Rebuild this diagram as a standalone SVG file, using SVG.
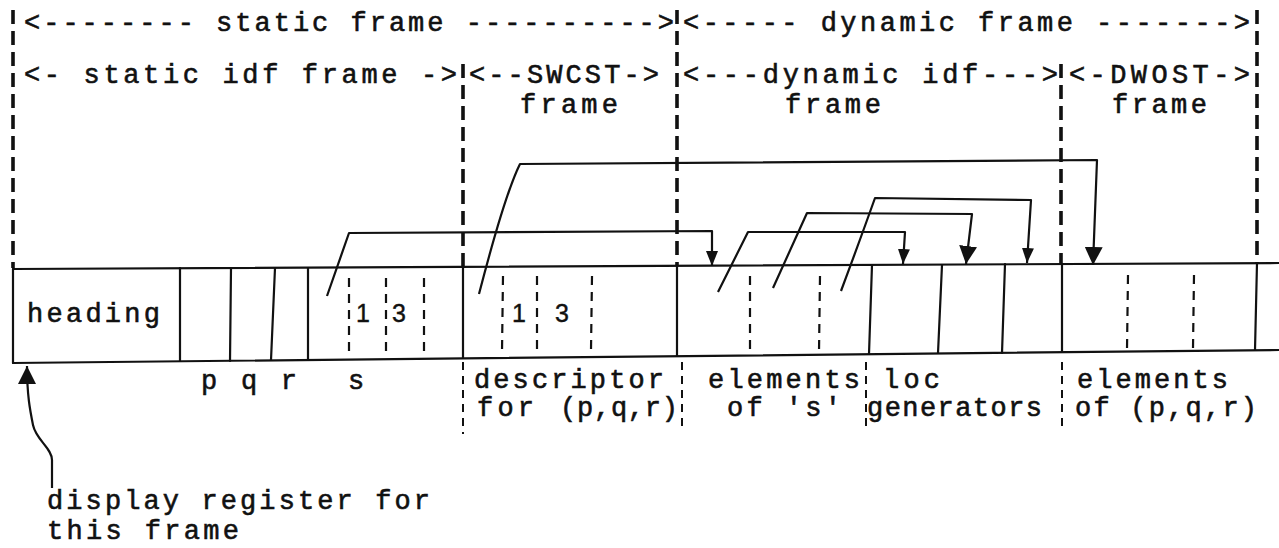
<svg xmlns="http://www.w3.org/2000/svg" width="1279" height="548" viewBox="0 0 1279 548">
  <style>
    .t { font-family: "Liberation Mono", "DejaVu Sans Mono", monospace; font-size: 27px; fill: #111; stroke: #111; stroke-width: 0.6; }
    .n { font-family: "Liberation Sans", Arial, sans-serif; font-size: 25px; fill: #111; stroke: #111; stroke-width: 0.4; }
    .sol { stroke: #111; stroke-width: 2.2; fill: none; stroke-linecap: round; }
    .rule { stroke: #111; stroke-width: 3.6; stroke-dasharray: 14 7; fill: none; }
    .cut { stroke: #111; stroke-width: 2.2; stroke-dasharray: 9 7; fill: none; }
    .tick { stroke: #111; stroke-width: 2; stroke-dasharray: 8 6; fill: none; }
    .ptr { stroke: #111; stroke-width: 2.2; fill: none; stroke-linejoin: round; }
    .big { marker-end: url(#ahBig); }
    .small { marker-end: url(#ahSmall); }
  </style>
  <defs>
    <marker id="ahBig" viewBox="0 0 18 18" refX="18" refY="9" markerWidth="18" markerHeight="18" markerUnits="userSpaceOnUse" orient="auto">
      <path d="M0,0 L18,9 L0,18 Z" fill="#111"/>
    </marker>
    <marker id="ahSmall" viewBox="0 0 15 12" refX="15" refY="6" markerWidth="15" markerHeight="12" markerUnits="userSpaceOnUse" orient="auto">
      <path d="M0,0 L15,6 L0,12 Z" fill="#111"/>
    </marker>
  </defs>

  <rect width="1279" height="548" fill="#fff"/>

  <!-- frame boundary rules above the record -->
  <g id="rules">
    <line class="rule" x1="13" y1="10" x2="13" y2="268"/>
    <line class="rule" x1="463" y1="64" x2="463" y2="267"/>
    <line class="rule" x1="677" y1="10" x2="677" y2="266"/>
    <line class="rule" x1="1061" y1="64" x2="1061" y2="264"/>
    <line class="rule" x1="1257" y1="10" x2="1257" y2="263"/>
  </g>

  <!-- frame headings -->
  <g id="headings">
    <text class="t" x="24" y="31" textLength="650" lengthAdjust="spacing">&lt;-------- static frame ----------&gt;</text>
    <text class="t" x="683" y="31" textLength="567" lengthAdjust="spacing">&lt;----- dynamic frame -------&gt;</text>
    <text class="t" x="24" y="83" textLength="433" lengthAdjust="spacing">&lt;- static idf frame -&gt;</text>
    <text class="t" x="469" y="83" textLength="190" lengthAdjust="spacing">&lt;--SWCST-&gt;</text>
    <text class="t" x="683" y="83" textLength="375" lengthAdjust="spacing">&lt;---dynamic idf---&gt;</text>
    <text class="t" x="1069" y="83" textLength="181" lengthAdjust="spacing">&lt;-DWOST-&gt;</text>
    <text class="t" x="520" y="113" textLength="98" lengthAdjust="spacing">frame</text>
    <text class="t" x="785" y="113" textLength="96" lengthAdjust="spacing">frame</text>
    <text class="t" x="1112" y="113" textLength="95" lengthAdjust="spacing">frame</text>
  </g>

  <!-- the record: outer edges -->
  <g id="record">
    <line class="sol" x1="13" y1="269" x2="1279" y2="263"/>
    <line class="sol" x1="13" y1="363" x2="1279" y2="350"/>
    <line class="sol" x1="13" y1="269" x2="13" y2="363"/>
  </g>

  <g id="heading-cell">
    <line class="sol" x1="180" y1="268" x2="180" y2="361"/>
    <text class="t" x="27" y="322" textLength="133" lengthAdjust="spacing">heading</text>
  </g>

  <g id="pqr-cells">
    <line class="sol" x1="231" y1="268" x2="230" y2="361"/>
    <line class="sol" x1="275" y1="268" x2="271" y2="360"/>
    <line class="sol" x1="308" y1="268" x2="308" y2="360"/>
    <text class="t" x="201" y="389" textLength="96" lengthAdjust="spacing">p q r</text>
  </g>

  <g id="s-cell">
    <line class="cut" x1="349" y1="278" x2="349" y2="354"/>
    <line class="cut" x1="386" y1="278" x2="386" y2="354"/>
    <line class="cut" x1="424" y1="278" x2="424" y2="354"/>
    <text class="n" x="356" y="322">1</text>
    <text class="n" x="392" y="322">3</text>
    <text class="t" x="348" y="389">s</text>
  </g>

  <g id="swcst-cell">
    <line class="sol" x1="463" y1="267" x2="463" y2="358"/>
    <line class="cut" x1="503" y1="276" x2="502" y2="352"/>
    <line class="cut" x1="537" y1="276" x2="537" y2="352"/>
    <line class="cut" x1="592" y1="276" x2="591" y2="350"/>
    <text class="n" x="512" y="322">1</text>
    <text class="n" x="555" y="322">3</text>
    <line class="tick" x1="463" y1="362" x2="463" y2="434"/>
    <text class="t" x="474" y="388" textLength="190" lengthAdjust="spacing">descriptor</text>
    <text class="t" x="477" y="416" textLength="57" lengthAdjust="spacing">for</text>
    <text class="t" x="560" y="416" textLength="118" lengthAdjust="spacing">(p,q,r)</text>
  </g>

  <g id="dyn-idf-cell">
    <line class="sol" x1="677" y1="266" x2="677" y2="356"/>
    <line class="cut" x1="750" y1="276" x2="750" y2="352"/>
    <line class="cut" x1="820" y1="276" x2="819" y2="352"/>
    <line class="tick" x1="682" y1="362" x2="682" y2="432"/>
    <text class="t" x="708" y="388" textLength="152" lengthAdjust="spacing">elements</text>
    <text class="t" x="727" y="416" textLength="114" lengthAdjust="spacing">of 's'</text>
  </g>

  <g id="loc-cells">
    <line class="sol" x1="872" y1="265" x2="869" y2="354"/>
    <line class="sol" x1="942" y1="265" x2="938" y2="353"/>
    <line class="sol" x1="1005" y1="264" x2="1002" y2="353"/>
    <line class="tick" x1="866" y1="362" x2="866" y2="432"/>
    <text class="t" x="883" y="388" textLength="57" lengthAdjust="spacing">loc</text>
    <text class="t" x="867" y="416" textLength="175" lengthAdjust="spacing">generators</text>
  </g>

  <g id="dwost-cell">
    <line class="sol" x1="1062" y1="264" x2="1062" y2="352"/>
    <line class="cut" x1="1128" y1="275" x2="1127" y2="349"/>
    <line class="cut" x1="1194" y1="275" x2="1193" y2="348"/>
    <line class="sol" x1="1257" y1="263" x2="1255" y2="350"/>
    <line class="tick" x1="1062" y1="362" x2="1062" y2="430"/>
    <text class="t" x="1077" y="388" textLength="151" lengthAdjust="spacing">elements</text>
    <text class="t" x="1075" y="416" textLength="182" lengthAdjust="spacing">of (p,q,r)</text>
  </g>

  <g id="display-register">
    <text class="t" x="47" y="509" textLength="383" lengthAdjust="spacing">display register for</text>
    <text class="t" x="47" y="539" textLength="192" lengthAdjust="spacing">this frame</text>
  </g>

  <!-- pointers from descriptors to the storage they address -->
  <g id="connectors">
    <path class="ptr small" d="M327,296 L349,233 L712,231 L712,266"/>
    <path class="ptr big" d="M479,294 Q505,194 520,164 L1097,160 L1093,265"/>
    <path class="ptr small" d="M718,292 L748,232 L905,232 L903,264"/>
    <path class="ptr big" d="M773,288 L807,213 L972,214 L966,264"/>
    <path class="ptr small" d="M841,291 Q860,240 875,198 L1031,200 L1027,263"/>
    <path class="ptr big" d="M52,488 L52,460 C52,448 36,440 33,425 C30,410 27,395 27,366"/>
  </g>
</svg>
